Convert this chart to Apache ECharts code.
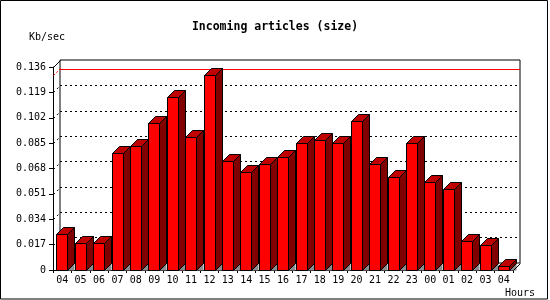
<!DOCTYPE html>
<html>
<head>
<meta charset="utf-8">
<script src="https://cdn.jsdelivr.net/npm/echarts@6/dist/echarts.min.js"></script>
<style>
html,body{margin:0;padding:0;background:#fff;}
#chart{width:550px;height:300px;}
</style>
</head>
<body>
<div id="chart"></div>
<script>
const categories = ['04','05','06','07','08','09','10','11','12','13','14','15','16','17','18','19','20','21','22','23','00','01','02','03','04'];
const values = [0.0239,0.0179,0.0179,0.0782,0.0830,0.0984,0.1157,0.0891,0.1304,0.0728,0.0659,0.0712,0.0755,0.0854,0.0869,0.0848,0.0996,0.0708,0.0620,0.0854,0.0587,0.0540,0.0192,0.0165,0.0025];
const yMin = 0;
const yMax = 0.136;
const yStep = 0.017;
const titleText = 'Incoming articles (size)';
const yUnit = 'Kb/sec';
const xUnit = 'Hours';

const FONT = '"DejaVu Sans Mono", "Liberation Mono", monospace';
const D = 7;
const FL = 53, FT = 67, FR = 513, FB = 270;

const chart = echarts.init(document.getElementById('chart'), null, {renderer:'canvas'});

function renderBar(params, api) {
  const i = api.value(0), v = api.value(1);
  const top = api.coord([i, v]);
  const base = api.coord([i, 0]);
  const band = api.size([1, 0])[0];
  const x0 = Math.round(top[0] - band / 2 + band * 0.18) + 0.5;
  const w = Math.round(band * 0.6);
  const ty = Math.round(top[1]) + 0.5;
  const by = Math.round(base[1]) + 0.5;
  const stroke = {stroke:'#000', lineWidth:1};
  return {
    type: 'group',
    children: [
      {type:'polygon', shape:{points:[[x0+w,by],[x0+w+D,by-D],[x0+w+D,by]]}, style:{fill:'#8c8c8c'}},
      {type:'polygon', shape:{points:[[x0+w,ty],[x0+w+D,ty-D],[x0+w+D,by-D],[x0+w,by]]}, style:Object.assign({fill:'#800000'}, stroke)},
      {type:'polygon', shape:{points:[[x0,ty],[x0+D,ty-D],[x0+w+D,ty-D],[x0+w,ty]]}, style:Object.assign({fill:'#c00000'}, stroke)},
      {type:'rect', shape:{x:x0, y:ty, width:w, height:by-ty}, style:Object.assign({fill:'#ff0000'}, stroke)}
    ]
  };
}

const option = {
  animation: false,
  backgroundColor: '#fff',
  grid: [
    {left: FL, top: FT, right: 550 - FR, bottom: 300 - FB, show: false},
    {left: FL + D, top: FT - D, right: 550 - FR - D, bottom: 300 - FB + D, show: true, backgroundColor: '#fff', borderColor: '#000', borderWidth: 1}
  ],
  xAxis: [
    {type:'category', gridIndex:0, data: categories, boundaryGap: true,
     axisLine:{show:true, lineStyle:{color:'#000', width:1}},
     axisTick:{show:true, length:3, lineStyle:{color:'#000'}},
     axisLabel:{interval:0, color:'#000', fontFamily:FONT, fontSize:10, margin:5},
     splitLine:{show:false}},
    {type:'category', gridIndex:1, data: categories, boundaryGap: true, show:false}
  ],
  yAxis: [
    {type:'value', gridIndex:0, min:yMin, max:yMax, interval:yStep,
     axisLine:{show:true, lineStyle:{color:'#000', width:1}},
     axisTick:{show:true, length:4, lineStyle:{color:'#000'}},
     axisLabel:{color:'#000', fontFamily:FONT, fontSize:10, margin:7,
       formatter: v => v === 0 ? '0' : v.toFixed(3)},
     splitLine:{show:false}},
    {type:'value', gridIndex:1, min:yMin, max:yMax, interval:yStep,
     axisLine:{show:false}, axisTick:{show:false}, axisLabel:{show:false},
     splitLine:{show:true, showMinLine:false, showMaxLine:false, lineStyle:{color:'#000', type:[2,3], width:1}}}
  ],
  series: [
    {type:'line', xAxisIndex:1, yAxisIndex:1, data: values, symbol:'none', silent:true,
     lineStyle:{opacity:0}, z:3,
     markLine:{silent:true, symbol:'none', label:{show:false},
       lineStyle:{color:'#ff0000', type:'solid', width:1},
       data:[{type:'max'}]}},
    {type:'custom', xAxisIndex:0, yAxisIndex:0, z:10, renderItem: renderBar,
     data: values.map((v, i) => [i, v]), encode:{x:0, y:1}}
  ],
  graphic: [
    {type:'text', left:'center', top:21, style:{text:titleText, font:'bold 11.5px ' + FONT, fill:'#000'}},
    {type:'text', left:29, top:32, style:{text:yUnit, font:'10px ' + FONT, fill:'#000'}},
    {type:'text', left:505, top:288, style:{text:xUnit, font:'10px ' + FONT, fill:'#000'}},
    {type:'rect', shape:{x:0.5, y:0.5, width:547, height:298.5}, style:{fill:'none', stroke:'#000', lineWidth:1}, z:100},
    {type:'line', shape:{x1:FL+0.5, y1:FT+0.5, x2:FL+D+0.5, y2:FT-D+0.5}, style:{stroke:'#000', lineWidth:1}, z:100},
    {type:'line', shape:{x1:FR+0.5, y1:FB+0.5, x2:FR+D+0.5, y2:FB-D+0.5}, style:{stroke:'#000', lineWidth:1}, z:100}
  ]
};
chart.setOption(option);

// small dotted diagonals on the side wall at each tick
const extra = [];
for (let v = yStep; v < yMax - 1e-9; v += yStep) {
  const y = Math.round(chart.convertToPixel({yAxisIndex:0}, v)) + 0.5;
  extra.push({type:'line', shape:{x1:FL+0.5, y1:y, x2:FL+D+0.5, y2:y-D}, style:{stroke:'#000', lineWidth:1, lineDash:[2,3]}, z:1});
}
const vmax = Math.max.apply(null, values);
const ym = Math.round(chart.convertToPixel({yAxisIndex:0}, vmax)) + 0.5;
extra.push({type:'line', shape:{x1:FL+0.5, y1:ym, x2:FL+D+0.5, y2:ym-D}, style:{stroke:'#ff0000', lineWidth:1, lineDash:[2,2]}, z:1});
chart.setOption({graphic: option.graphic.concat(extra)});
</script>
</body>
</html>
